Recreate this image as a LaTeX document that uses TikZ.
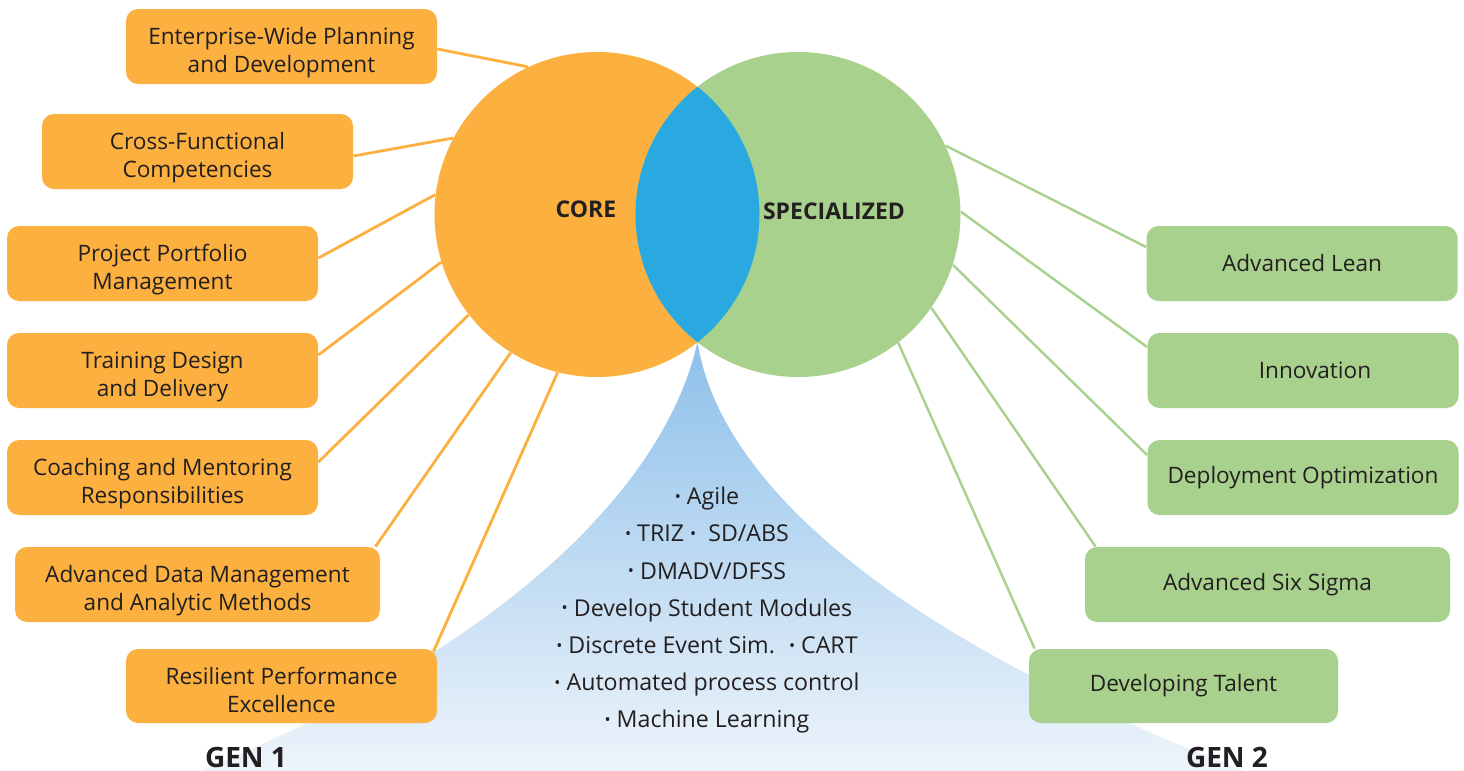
\documentclass[tikz,border=0pt]{standalone}
\usepackage{fontspec}
\setmainfont{Open Sans}
\usepackage{graphicx}
\definecolor{org}{HTML}{FBB040}
\definecolor{grn}{HTML}{A8D18D}
\definecolor{lens}{HTML}{29A9E0}
\definecolor{txt}{HTML}{231F20}
\definecolor{fanTop}{HTML}{8DC0E9}
\definecolor{fanBot}{HTML}{EEF4FB}
\newcommand\bul{\raisebox{0.2ex}{\scalebox{0.7}{•}}}
\pgfdeclarelayer{bg}
\pgfsetlayers{bg,main}
\begin{document}
\begin{tikzpicture}[x=0.5pt,y=-0.5pt,
  box/.style={rounded corners=6pt, inner sep=0pt, align=center, text=txt,
    font=\fontsize{11.3}{14}\selectfont, minimum height=37.5pt, minimum width=155.5pt},
  two/.style={text height=28pt, text depth=2pt},
  obox/.style={box, two, fill=org},
  gbox/.style={box, fill=grn},
  oline/.style={draw=org, line width=1.4pt},
  gline/.style={draw=grn, line width=1.2pt},
  big/.style={circle, inner sep=0pt, minimum size=162.5pt},
  head/.style={font=\bfseries\fontsize{11.5}{14}\selectfont, text=txt},
  gen/.style={font=\bfseries\fontsize{14}{16}\selectfont, text=txt, anchor=base},
]
\useasboundingbox (0,0) rectangle (1464,771);

% circles
\node[big, fill=org] (core) at (597,214.5) {};
\node[big, fill=grn] (spec) at (798,214.5) {};
\begin{scope}
  \clip (core.center) circle[radius=81.25pt];
  \fill[lens] (spec.center) circle[radius=81.25pt];
\end{scope}
\coordinate (apex) at (697.5,341.5);
\node[head] (corelbl) at (586,209) {CORE};
\node[head] (speclbl) at (834,211) {SPECIALIZED};

% orange boxes
\node[obox] (o1) at (281.5,46.5) {Enterprise-Wide Planning\\and Development};
\node[obox] (o2) at (197.5,151.5) {Cross-Functional\\Competencies};
\node[obox] (o3) at (162.5,263.5) {Project Portfolio\\Management};
\node[obox] (o4) at (162.5,370.5) {Training Design\\and Delivery};
\node[obox] (o5) at (162.5,477.5) {Coaching and Mentoring\\Responsibilities};
\node[obox, minimum width=182.5pt] (o6) at (197.5,584.5) {Advanced Data Management\\and Analytic Methods};
\node[obox, minimum height=37pt] (o7) at (281.5,686) {Resilient Performance\\Excellence};

% green boxes
\node[gbox] (g1) at (1302,263.5) {Advanced Lean};
\node[gbox] (g2) at (1303,370.5) {\hspace*{12pt}Innovation};
\node[gbox] (g3) at (1303,477.5) {Deployment Optimization};
\node[gbox, minimum width=182.5pt] (g4) at (1267.5,584.5) {Advanced Six Sigma};
\node[gbox, minimum height=37pt, minimum width=154.5pt] (g5) at (1183.5,686) {Developing Talent};

% list
\node[text=txt, align=center, font=\fontsize{11.6}{18.6}\selectfont, anchor=north] (list) at (707,480)
 {\bul\ Agile\\
  \bul\ TRIZ \bul\ \ SD/ABS\\
  \bul\ DMADV/DFSS\\
  \bul\ Develop Student Modules\\
  \bul\ Discrete Event Sim. \ \bul\ CART\\
  \bul\ Automated process control\\
  \bul\ Machine Learning};

\node[gen] (gen1) at (246,767) {GEN 1};
\node[gen] (gen2) at (1227,767) {GEN 2};

\begin{pgfonlayer}{bg}
  \fill[white] (0,0) rectangle (1464,771);
  \shade[top color=fanTop, bottom color=fanBot]
    (apex) .. controls (672,460) and (545,630) .. (200,771)
    -- (1245,771) .. controls (850,620) and (715,460) .. (apex);
  \draw[oline] ([yshift=-1.25pt]o1.east) -- (core.115.2);
  \draw[oline] ([yshift=-2.25pt]o2.east) -- (core.152.2);
  \draw[oline] ([yshift=2.75pt]o3.east) -- (core.173.8);
  \draw[oline] ([yshift=7.75pt]o4.east) -- (core.197.8);
  \draw[oline] ([yshift=7.75pt]o5.east) -- (core.218.9);
  \draw[oline] ([xshift=-2.5pt]o6.north east) -- (core.238.2);
  \draw[oline] ([xshift=-2pt,yshift=-1.5pt]o7.north east) -- (core.256.5);
  \draw[gline] ([yshift=8.25pt]g1.west) -- (spec.25.9);
  \draw[gline] ([yshift=11.75pt]g2.west) -- (spec.1.6);
  \draw[gline] ([yshift=11.25pt]g3.west) -- (spec.-18.3);
  \draw[gline] ([xshift=5.5pt]g4.north west) -- (spec.-35.7);
  \draw[gline] ([xshift=3pt]g5.north west) -- (spec.-52.8);
\end{pgfonlayer}
\end{tikzpicture}
\end{document}
